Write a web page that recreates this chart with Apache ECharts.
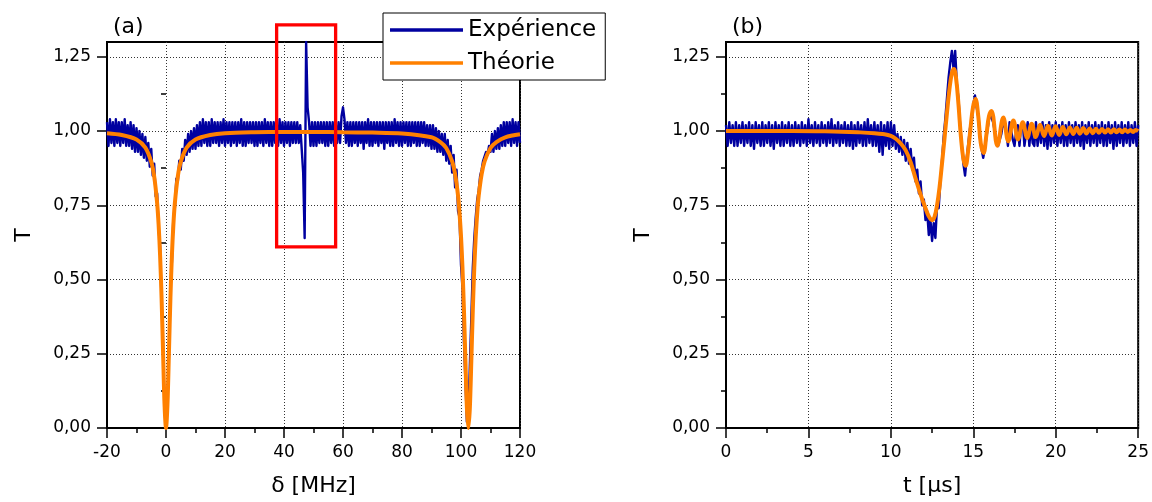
<!DOCTYPE html>
<html><head><meta charset="utf-8">
<script src="https://cdn.jsdelivr.net/npm/echarts@6/dist/echarts.min.js"></script>
<style>html,body{margin:0;padding:0;background:#fff}#c{width:1152px;height:502px}</style>
</head><body><div id="c"></div>
<script>
// ---------- DATA ----------
// Panel (a): transmission vs detuning δ [MHz]
const expA_start = -20, expA_step = 0.5;
const expA_T = [
 1.03,0.95,1.04,0.96,1.03,0.95,1.04,0.96,1.03,0.95,
 1.03,0.96,1.04,0.95,1.02,0.95,1.03,0.94,1.02,0.93,
 1.01,0.93,1.00,0.92,0.99,0.91,0.98,0.90,0.96,0.88,
 0.94,0.85,0.89,0.78,0.79,0.67,0.61,0.42,0.28,0.06,
 0.00,0.10,0.24,0.46,0.56,0.71,0.74,0.84,0.83,0.90,
 0.87,0.94,0.90,0.97,0.92,0.99,0.93,1.00,0.94,1.01,
 0.94,1.02,0.95,1.03,0.95,1.04,0.96,1.03,0.95,1.03,
 0.95,1.04,0.96,1.03,0.96,1.03,0.95,1.03,0.96,1.04,
 0.95,1.03,0.96,1.03,0.95,1.03,0.96,1.03,0.95,1.03,
 0.96,1.04,0.95,1.03,0.95,1.03,0.96,1.03,0.96,1.03,
 0.95,1.03,0.95,1.03,0.96,1.03,0.95,1.04,0.96,1.03,
 0.95,1.03,0.95,1.03,0.96,1.03,0.95,1.04,0.96,1.03,
 0.95,1.03,0.96,1.03,0.95,1.03,0.96,1.03,0.96,1.03,
 0.96,1.02,0.94,0.86,0.64,1.30,1.08,1.03,0.95,1.03,
 0.95,1.03,0.95,1.03,0.96,1.03,0.96,1.03,0.95,1.03,
 0.95,1.03,0.96,1.03,0.95,1.03,0.96,1.03,0.96,1.05,
 1.08,1.04,0.96,1.03,0.95,1.03,0.95,1.03,0.96,1.03,
 0.95,1.03,0.96,1.03,0.94,1.03,0.96,1.04,0.95,1.03,
 0.95,1.03,0.96,1.03,0.95,1.03,0.96,1.03,0.94,1.03,
 0.96,1.03,0.95,1.03,0.95,1.04,0.96,1.03,0.95,1.03,
 0.95,1.03,0.96,1.03,0.95,1.03,0.95,1.03,0.96,1.03,
 0.95,1.03,0.95,1.03,0.96,1.03,0.95,1.02,0.95,1.02,
 0.94,1.02,0.94,1.01,0.93,1.00,0.93,0.99,0.92,0.99,
 0.90,0.97,0.89,0.95,0.86,0.92,0.81,0.87,0.73,0.71,
 0.55,0.47,0.29,0.16,0.02,0.03,0.21,0.37,0.54,0.64,
 0.71,0.77,0.80,0.85,0.87,0.90,0.90,0.93,0.92,0.95,
 0.93,0.99,0.93,1.00,0.94,1.01,0.94,1.02,0.95,1.03,
 0.95,1.03,0.96,1.03,0.95,1.04,0.96,1.03,0.95,1.03,
 0.96
];
const thA_x = [-20,-15,-10,-7,-5,-4,-3,-2.5,-2,-1.5,-1,-0.5,0,0.5,1,1.5,2,2.5,3,4,5,7,10,15,20,30,40,50,60,70,80,90,93,95,97,98,99,99.5,100,100.5,101,101.5,102,102.5,103,103.5,104,104.5,105,105.5,106,107,108,110,112,115,120];
const thA_T = [0.993,0.987,0.972,0.944,0.896,0.847,0.757,0.684,0.581,0.438,0.257,0.080,0.0,0.080,0.257,0.438,0.581,0.684,0.757,0.847,0.896,0.944,0.972,0.987,0.993,0.996,0.997,0.997,0.996,0.995,0.992,0.979,0.963,0.943,0.898,0.855,0.782,0.724,0.646,0.539,0.397,0.226,0.068,0.0,0.068,0.226,0.397,0.539,0.646,0.724,0.782,0.855,0.898,0.943,0.963,0.979,0.989];
const boxA_x = [37.5, 57.5];
const boxA_T = [0.61, 1.358];

// Panel (b): transmission vs time t [µs]
const expB_start = 0, expB_step = 0.1;
const expB_T = [
 1.02,0.95,1.03,0.96,1.02,0.95,1.03,0.95,1.02,0.96,
 1.03,0.95,1.02,0.96,1.03,0.95,1.02,0.94,1.03,0.96,
 1.02,0.95,1.03,0.95,1.02,0.96,1.03,0.95,1.02,0.94,
 1.03,0.96,1.02,0.95,1.03,0.95,1.02,0.96,1.03,0.95,
 1.02,0.95,1.03,0.96,1.02,0.95,1.03,0.96,1.02,0.95,
 1.04,0.96,1.02,0.95,1.03,0.96,1.02,0.95,1.03,0.96,
 1.02,0.95,1.03,0.96,1.04,0.95,1.02,0.96,1.03,0.95,
 1.02,0.96,1.03,0.95,1.02,0.95,1.03,0.94,1.02,0.95,
 1.03,0.96,1.02,0.95,1.03,0.95,1.04,0.96,1.02,0.95,
 1.03,0.95,1.02,0.93,1.03,0.92,1.02,0.95,1.03,0.94,
 1.03,0.95,1.02,0.94,0.99,0.93,0.98,0.92,0.97,0.90,
 0.96,0.89,0.94,0.87,0.91,0.83,0.87,0.79,0.83,0.75,
 0.77,0.70,0.73,0.65,0.70,0.63,0.69,0.64,0.75,0.74,
 0.83,0.90,0.98,1.04,1.11,1.18,1.23,1.27,1.21,1.27,
 1.16,1.11,1.02,0.95,0.89,0.85,0.91,0.91,1.01,1.03,
 1.09,1.12,1.08,1.05,0.98,0.94,0.91,0.94,0.98,1.02,
 1.06,1.06,1.03,1.00,0.96,0.95,0.95,0.99,1.03,1.03,
 1.00,0.95,1.03,1.03,0.97,0.95,1.00,1.02,0.95,1.02,
 1.03,0.95,0.99,1.03,0.95,1.02,0.96,0.95,1.03,0.95,
 1.02,0.96,1.03,0.95,1.02,0.94,1.03,0.95,1.02,0.96,
 1.03,0.95,1.02,0.96,1.03,0.95,1.02,0.95,1.03,0.96,
 1.02,0.95,1.03,0.96,1.02,0.95,1.03,0.94,1.02,0.96,
 1.03,0.95,1.02,0.96,1.03,0.95,1.02,0.96,1.03,0.95,
 1.02,0.95,1.03,0.96,1.02,0.94,1.03,0.95,1.02,0.96,
 1.03,0.95,1.02,0.96,1.03,0.95,1.02,0.96,1.03,0.95,
 1.02
];
const thB_t = [0,2,4,6,7,8,9,9.5,10,10.3,10.6,10.9,11.2,11.5,11.8,12.1,12.3,12.5,12.65,12.8,12.95,13.1,13.25,13.4,13.55,13.7,13.82,13.95,14.1,14.25,14.4,14.53,14.68,14.83,14.98,15.13,15.3,15.45,15.62,15.8,15.95,16.1,16.46,16.82,17.12,17.43,17.71,18.0,18.27,18.54,18.79,19.05,19.29,19.53,19.76,19.99,20.21,20.43,20.64,20.86,21.06,21.27,21.47,21.67,21.86,22.06,22.25,22.44,22.62,22.81,22.99,23.17,23.34,23.52,23.69,23.86,24.03,24.2,24.36,24.53,24.69,24.85,25];
const thB_T = [1,1,1,0.999,0.998,0.996,0.993,0.99,0.984,0.974,0.958,0.935,0.895,0.84,0.787,0.74,0.713,0.70,0.712,0.75,0.81,0.89,0.973,1.06,1.14,1.195,1.209,1.18,1.09,0.98,0.905,0.883,0.93,1.01,1.08,1.108,1.05,0.96,0.926,0.99,1.05,1.068,0.951,1.046,0.966,1.036,0.972,1.03,0.977,1.025,0.980,1.021,0.983,1.018,0.985,1.016,0.987,1.014,0.989,1.012,0.99,1.011,0.991,1.01,0.992,1.009,0.993,1.008,0.994,1.007,0.995,1.006,0.995,1.006,0.996,1.005,0.996,1.005,0.997,1.004,0.997,1.004,1.0];

const yTicks = [0,0.25,0.5,0.75,1,1.25];
const yMinor = [0.125,0.375,0.625,0.875,1.125];

// ---------- BUILD ----------
const FONT = 'DejaVu Sans';
const BLUE = '#0000a0', ORANGE = '#ff8000';
const pairsUniform = (start, step, arr) => arr.map((v, i) => [start + i * step, v]);
const pairs = (xs, ys) => xs.map((x, i) => [x, ys[i]]);
const box = (xs, ys) => [[xs[0],ys[0]],[xs[0],ys[1]],[xs[1],ys[1]],[xs[1],ys[0]],[xs[0],ys[0]],[xs[0],ys[1]]];
const fmt = v => v.toFixed(2).replace('.', ',');

function xAxisDef(gi, min, max, interval, name) {
  return {
    gridIndex: gi, type: 'value', min, max, interval,
    name, nameLocation: 'middle', nameGap: 47,
    nameTextStyle: { fontFamily: FONT, fontSize: 22, color: '#000' },
    axisLine: { show: true, onZero: false, lineStyle: { color: '#000', width: 2 } },
    axisTick: { show: true, inside: false, length: 10, lineStyle: { color: '#000', width: 1.5 } },
    minorTick: { show: true, splitNumber: 2, length: 5, lineStyle: { color: '#000', width: 1.5 } },
    axisLabel: { fontFamily: FONT, fontSize: 17, color: '#000', margin: 16 },
    splitLine: { show: true, lineStyle: { color: '#333', width: 1, type: [1, 2] } }
  };
}
function yAxisDef(gi) {
  return {
    gridIndex: gi, type: 'value', min: 0, max: 1.3, interval: 0.25,
    name: 'T', nameLocation: 'middle', nameGap: 72, nameRotate: 90,
    nameTextStyle: { fontFamily: FONT, fontSize: 22, color: '#000' },
    axisLine: { show: true, onZero: false, lineStyle: { color: '#000', width: 2 } },
    axisTick: { show: true, inside: false, length: 10, customValues: yTicks, lineStyle: { color: '#000', width: 1.5 } },
    axisLabel: { fontFamily: FONT, fontSize: 17, color: '#000', margin: 16, customValues: yTicks, formatter: fmt },
    splitLine: { show: true, lineStyle: { color: '#333', width: 1, type: [1, 2] } }
  };
}
function yMinorDef(gi) {
  return {
    gridIndex: gi, type: 'value', min: 0, max: 1.3, position: 'left',
    axisLine: { show: false }, axisLabel: { show: false }, splitLine: { show: false },
    axisTick: { show: true, inside: false, length: 5, customValues: yMinor, lineStyle: { color: '#000', width: 1.5 } }
  };
}

const gridCommon = { show: true, borderColor: '#000', borderWidth: 2, backgroundColor: 'transparent', containLabel: false };

const option = {
  animation: false,
  backgroundColor: '#fff',
  title: [
    { text: '(a)', left: 108, top: 11, textStyle: { fontFamily: FONT, fontSize: 22, fontWeight: 'normal', color: '#000' } },
    { text: '(b)', left: 727, top: 11, textStyle: { fontFamily: FONT, fontSize: 22, fontWeight: 'normal', color: '#000' } }
  ],
  legend: {
    orient: 'vertical', left: 383, top: 13, z: 20,
    backgroundColor: '#fff', borderColor: '#000', borderWidth: 1, borderRadius: 0,
    padding: [4, 9, 4, 7], itemWidth: 73, itemHeight: 3.5, itemGap: 7, icon: 'rect',
    textStyle: { fontFamily: FONT, fontSize: 23, color: '#000', lineHeight: 26 },
    data: ['Expérience', 'Théorie']
  },
  grid: [
    Object.assign({ left: 107, top: 42, width: 413, height: 387 }, gridCommon),
    Object.assign({ left: 726, top: 42, width: 413, height: 387 }, gridCommon)
  ],
  xAxis: [
    xAxisDef(0, -20, 120, 20, 'δ [MHz]'),
    xAxisDef(1, 0, 25, 5, 't [µs]')
  ],
  yAxis: [yAxisDef(0), yAxisDef(1), yMinorDef(0), yMinorDef(1)],
  series: [
    { name: 'Expérience', type: 'line', xAxisIndex: 0, yAxisIndex: 0, symbol: 'none',
      data: pairsUniform(expA_start, expA_step, expA_T), lineStyle: { color: BLUE, width: 2.4, join: 'round' }, itemStyle: { color: BLUE }, z: 2 },
    { name: 'Théorie', type: 'line', xAxisIndex: 0, yAxisIndex: 0, symbol: 'none', smooth: 0.3,
      data: pairs(thA_x, thA_T), lineStyle: { color: ORANGE, width: 4 }, itemStyle: { color: ORANGE }, z: 3 },
    { name: 'Expérience', type: 'line', xAxisIndex: 1, yAxisIndex: 1, symbol: 'none',
      data: pairsUniform(expB_start, expB_step, expB_T), lineStyle: { color: BLUE, width: 2.4, join: 'round' }, itemStyle: { color: BLUE }, z: 2 },
    { name: 'Théorie', type: 'line', xAxisIndex: 1, yAxisIndex: 1, symbol: 'none', smooth: 0.4,
      data: pairs(thB_t, thB_T), lineStyle: { color: ORANGE, width: 4 }, itemStyle: { color: ORANGE }, z: 3 },
    { name: 'box', type: 'line', xAxisIndex: 0, yAxisIndex: 0, symbol: 'none', clip: false, silent: true,
      data: box(boxA_x, boxA_T), lineStyle: { color: '#ff0000', width: 3.3, join: 'miter' }, z: 10 }
  ]
};
const chart = echarts.init(document.getElementById('c'), null, { renderer: 'canvas' });
chart.setOption(option);
</script>
</body></html>
